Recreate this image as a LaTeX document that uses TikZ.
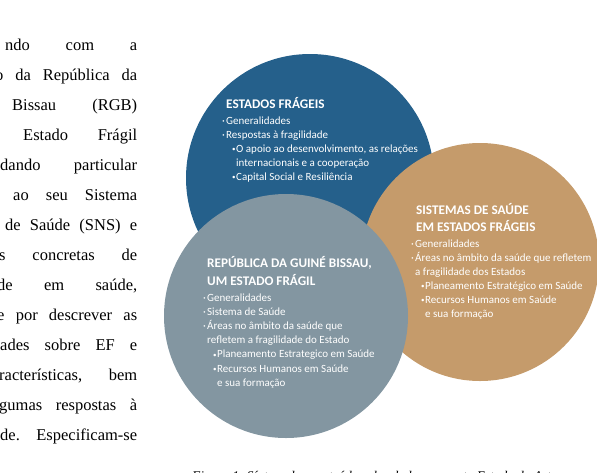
\documentclass[tikz,border=0pt]{standalone}
\usepackage{fontspec}
\setmainfont{Liberation Serif}
\newfontfamily\calibri{Carlito}
\usetikzlibrary{positioning}

\definecolor{fragblue}{RGB}{37,96,139}
\definecolor{saudetan}{RGB}{197,155,107}
\definecolor{guinegrey}{RGB}{131,150,161}

\newcommand\bul{\makebox[4pt][l]{·}}
\newcommand\sbul{\hspace{10pt}\makebox[4pt][l]{\raisebox{0.3pt}{\scriptsize •}}}

\begin{document}
\begin{tikzpicture}[x=1pt, y=-1pt,
  circ/.style={circle, minimum size=#1, inner sep=0pt},
  heading/.style={font=\calibri\bfseries\fontsize{13.2}{17.5}\selectfont, text=white,
    anchor=base west, inner sep=0pt, align=left},
  items/.style={font=\calibri\fontsize{11}{14}\selectfont, text=white,
    anchor=base west, inner sep=0pt, align=left},
  prose/.style={font=\fontsize{16.5}{20}\selectfont, anchor=base west, inner sep=0pt}
]
\useasboundingbox (0,0) rectangle (597,472);
\clip (0,0) rectangle (597,472);

%%% text column %%%
\node[prose] (l1) at (5,50) {\makebox[132pt][s]{ndo com a}};
\node[prose] (l2) at (-5,80) {\makebox[142pt][s]{o da República da}};
\node[prose] (l3) at (12,110) {\makebox[125pt][s]{Bissau (RGB)}};
\node[prose] (l4) at (23,140) {\makebox[114pt][s]{Estado Frágil}};
\node[prose] (l5) at (0,170) {\makebox[137pt][s]{dando particular}};
\node[prose] (l6) at (13,200) {\makebox[124pt][s]{ao seu Sistema}};
\node[prose] (l7) at (5,230) {\makebox[132pt][s]{de Saúde (SNS) e}};
\node[prose] (l8) at (-1,260) {\makebox[138pt][s]{s concretas de}};
\node[prose] (l9) at (-3,290) {\makebox[140pt][s]{de em saúde,}};
\node[prose] (l10) at (-3,320) {\makebox[140pt][s]{e por descrever as}};
\node[prose] (l11) at (0,350) {\makebox[137pt][s]{ades sobre EF e}};
\node[prose] (l12) at (-1,380) {\makebox[138pt][s]{racterísticas, bem}};
\node[prose] (l13) at (-1,410) {\makebox[138pt][s]{gumas respostas à}};
\node[prose] (l14) at (0,440) {\makebox[137pt][s]{de. Especificam-se}};

%%% estados frageis %%%
\node[circ=248pt, fill=fragblue] (estados) at (310,178) {};
\node[heading] (estadosT) at (226,108.5) {ESTADOS FRÁGEIS};
% base = last line
\node[items] (estadosL) at (222,180) {\bul Generalidades\\
  \bul Respostas à fragilidade\\
  \sbul O apoio ao desenvolvimento, as relações\\
  \hspace{14pt}internacionais e a cooperação\\
  \sbul Capital Social e Resiliência};

%%% sistemas de saude %%%
\node[circ=238pt, fill=saudetan] (saude) at (480,262) {};
\node[heading, font=\calibri\bfseries\fontsize{13.2}{17}\selectfont] (saudeT) at (416,231.5)
  {SISTEMAS DE SAÚDE\\EM ESTADOS FRÁGEIS};
\node[items] (saudeL) at (411,317) {\bul Generalidades\\
  \bul Áreas no âmbito da saúde que refletem\\
  \hspace{4pt}a fragilidade dos Estados\\
  \sbul Planeamento Estratégico em Saúde\\
  \sbul Recursos Humanos em Saúde\\
  \hspace{14pt}e sua formação};

%%% guine bissau %%%
\node[circ=244pt, fill=guinegrey] (guine) at (286,316) {};
\node[heading, font=\calibri\bfseries\fontsize{13.2}{18}\selectfont] (guineT) at (207,285.5)
  {REPÚBLICA DA GUINÉ BISSAU,\\UM ESTADO FRÁGIL};
\node[items, font=\calibri\fontsize{11}{14.2}\selectfont] (guineL) at (203,386.2) {\bul Generalidades\\
  \bul Sistema de Saúde\\
  \bul Áreas no âmbito da saúde que\\
  \hspace{4pt}refletem a fragilidade do Estado\\
  \sbul Planeamento Estrategico em Saúde\\
  \sbul Recursos Humanos em Saúde\\
  \hspace{14pt}e sua formação};

%% legenda
\node[anchor=base west, inner sep=0pt, font=\itshape\fontsize{13.3}{16}\selectfont] (legenda)
  at (192,480) {Figura 1. Síntese dos conteúdos abordados no ponto Estado da Arte};

\end{tikzpicture}
\end{document}
